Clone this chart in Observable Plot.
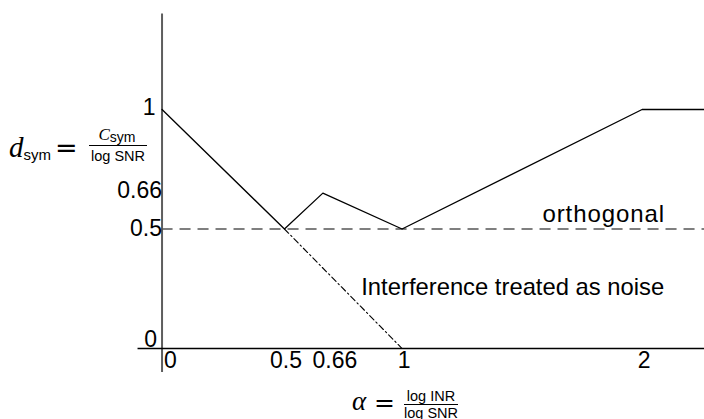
<!DOCTYPE html>
<html><head><meta charset="utf-8">
<script src="https://cdn.jsdelivr.net/npm/d3@7"></script>
<script src="https://cdn.jsdelivr.net/npm/@observablehq/plot@0.6"></script>
<style>body{margin:0;background:#fff}</style>
</head><body><div id="chart"></div>
<script>
// ---- data ----
const curveAlpha = [0, 0.51, 0.67, 1, 2, 2.26];
const curveD     = [1, 0.5, 0.65, 0.5, 1, 1];
const itnAlpha = [0.51, 1];
const itnD     = [0.5, 0];
const orthAlpha = [0, 2.26];
const orthD     = [0.5, 0.5];
const xTickValues = [0, 0.5, 0.66, 1, 2];
const xTickLabels = ["0", "0.5", "0.66", "1", "2"];
const yTickValues = [1, 0.66, 0.5, 0];
const yTickLabels = ["1", "0.66", "0.5", "0"];
const annotationText  = ["orthogonal", "Interference treated as noise"];
const annotationAlpha = [1.585, 0.83];
const annotationD     = [0.529, 0.222];

const curve = curveAlpha.map((a, i) => ({a, d: curveD[i]}));
const itn = itnAlpha.map((a, i) => ({a, d: itnD[i]}));
const orth = orthAlpha.map((a, i) => ({a, d: orthD[i]}));
const xt = xTickValues.map((v, i) => ({v, label: xTickLabels[i]}));
const yt = yTickValues.map((v, i) => ({v, label: yTickLabels[i]}));
const ann = annotationText.map((t, i) => ({t, a: annotationAlpha[i], d: annotationD[i]}));

const font = "'Liberation Sans', Arial, Helvetica, sans-serif";
const plot = Plot.plot({
  width: 704, height: 419,
  marginTop: 0, marginRight: 0, marginBottom: 0, marginLeft: 0,
  x: {domain: [-0.673, 2.26], axis: null},
  y: {domain: [-0.297, 1.456], axis: null},
  style: {fontFamily: font, fontSize: "23px", background: "#fff", color: "#000"},
  marks: [
    Plot.ruleX([0], {y1: -0.1, y2: 1.40, stroke: "#5e5e5e", strokeWidth: 2}),
    Plot.ruleY([0], {x1: -0.1, x2: 2.26, stroke: "#000", strokeWidth: 1.3}),
    Plot.line(orth, {x: "a", y: "d", stroke: "#555", strokeWidth: 1.5, strokeDasharray: "10,8"}),
    Plot.line(itn, {x: "a", y: "d", stroke: "#000", strokeWidth: 1.1, strokeDasharray: "6,3,1.5,3"}),
    Plot.line(curve, {x: "a", y: "d", stroke: "#000", strokeWidth: 1.3}),
    // y tick labels
    Plot.text(yt.filter(d => d.v === 1), {x: () => 0, y: "v", text: "label", textAnchor: "end", dx: -6.5, dy: -1.5}),
    Plot.text(yt.filter(d => d.v === 0.66 || d.v === 0.5), {x: () => 0, y: "v", text: "label", textAnchor: "end", dx: 0}),
    Plot.text(yt.filter(d => d.v === 0), {x: () => 0, y: "v", text: "label", textAnchor: "end", dx: -5, dy: -9}),
    // x tick labels
    Plot.text(xt.filter(d => d.v === 0), {x: "v", y: () => 0, text: "label", textAnchor: "start", dx: 2, dy: 12.5}),
    Plot.text(xt.filter(d => d.v === 0.5), {x: "v", y: () => 0, text: "label", dx: 4, dy: 12.5}),
    Plot.text(xt.filter(d => d.v === 0.66), {x: "v", y: () => 0, text: "label", dx: 14.5, dy: 12.5}),
    Plot.text(xt.filter(d => d.v >= 1), {x: "v", y: () => 0, text: "label", dx: 2, dy: 12.5}),
    // annotations
    Plot.text(ann.filter(d => d.t === "orthogonal"), {x: "a", y: "d", text: "t", textAnchor: "start", lineAnchor: "bottom", fontSize: 24, style: "letter-spacing:0.9px"}),
    Plot.text(ann.filter(d => d.t !== "orthogonal"), {x: "a", y: "d", text: "t", textAnchor: "start", lineAnchor: "bottom", fontSize: 23.8})
  ]
});
document.getElementById("chart").appendChild(plot);
plot.querySelectorAll("text").forEach(t => {
  if (t.textContent === "orthogonal") t.setAttribute("letter-spacing", "0.9");
});

// ---- math axis titles (real text) ----
const svg = d3.select(plot);
const serif = "'Liberation Serif', 'DejaVu Serif', serif";
const math = "'DejaVu Sans', sans-serif";
function addText(x, y, anchor, parts) {
  const t = svg.append("text").attr("x", x).attr("y", y).attr("text-anchor", anchor).attr("fill", "#000");
  parts.forEach(p => {
    const s = t.append("tspan").text(p.text).attr("font-family", p.font).attr("font-size", p.size);
    if (p.italic) s.attr("font-style", "italic");
    if (p.dy) s.attr("dy", p.dy);
  });
}
function bar(x1, x2, y) {
  svg.append("line").attr("x1", x1).attr("x2", x2).attr("y1", y).attr("y2", y)
    .attr("stroke", "#000").attr("stroke-width", 1);
}
// y title: d_sym = C_sym / log SNR
addText(9, 157, "start", [
  {text: "d", font: serif, size: 29, italic: true},
  {text: "sym", font: font, size: 15, dy: 2.5}
]);
addText(55, 157, "start", [{text: "=", font: math, size: 27}]);
addText(117, 140, "middle", [
  {text: "C", font: serif, size: 17, italic: true},
  {text: "sym", font: font, size: 14, dy: 2}
]);
bar(89, 147, 145.5);
addText(118, 161, "middle", [{text: "log SNR", font: font, size: 14.5}]);

// x title: alpha = log INR / log SNR
addText(352, 410, "start", [{text: "α", font: serif, size: 27, italic: true}]);
addText(374, 411, "start", [{text: "=", font: math, size: 25}]);
bar(404, 458, 404.5);
addText(431, 401, "middle", [{text: "log INR", font: font, size: 14.5}]);
addText(431, 417.5, "middle", [{text: "log SNR", font: font, size: 14.5}]);
</script>
</body></html>
